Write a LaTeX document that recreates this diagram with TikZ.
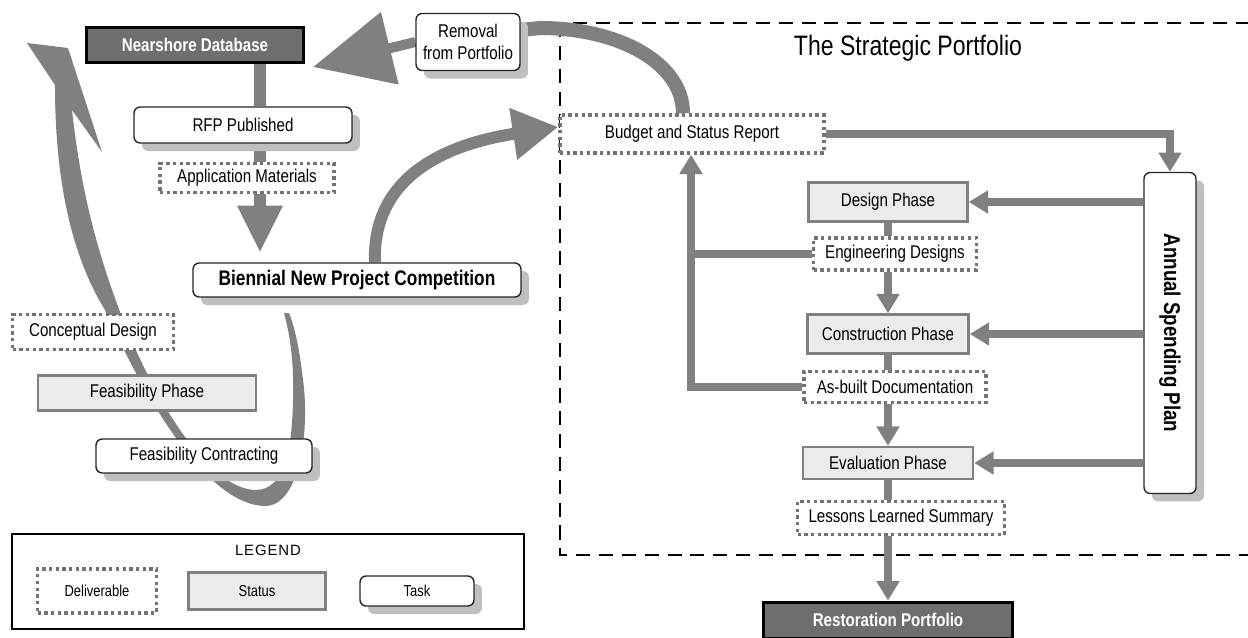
\documentclass[tikz,border=0pt]{standalone}
\usepackage{fontspec}
\setmainfont{Liberation Sans}[FakeStretch=0.82]
\newfontfamily\legendfont{Liberation Sans}[LetterSpace=6]
\usetikzlibrary{arrows.meta, shadows, backgrounds, positioning}
\definecolor{flowgray}{RGB}{128,128,128}
\definecolor{statusfill}{RGB}{235,235,235}
\definecolor{darkfill}{RGB}{110,110,110}
\tikzset{
    box/.style={
        rectangle,
        inner sep=0pt,
        align=center,
        font=\fontsize{10.5}{12.5}\selectfont,
    },
    task/.style={
        box,
        draw=black!85,
        fill=white,
        line width=0.8pt,
        rounded corners=3.5pt,
        drop shadow={shadow xshift=0.16cm, shadow yshift=-0.16cm, fill=black!25, opacity=1},
    },
    status/.style={box, draw=flowgray, fill=statusfill, line width=1.4pt},
    deliverable/.style={box, draw=black!55, fill=white, line width=1.9pt, dash pattern=on 1.9pt off 1.9pt},
    database/.style={box, draw=black, fill=darkfill, line width=1.7pt, text=white,
        font=\bfseries\fontsize{10.5}{12.5}\selectfont},
    flow/.style={draw=flowgray, line width=4pt},
    flowtip/.style={-{Triangle[length=11pt,width=12.5pt]}},
}

\begin{document}
\begin{tikzpicture}[x=0.02cm, y=-0.02cm]
    \useasboundingbox (0,0) rectangle (1248,637);
    % competition side
    \node[database, minimum width=4.36cm, minimum height=0.70cm] (near) at (195,45) {Nearshore Database};
    \node[task, minimum width=2.08cm, minimum height=1.14cm] (removal) at (468,42) {Removal\\from Portfolio};
    \node[task, minimum width=4.36cm, minimum height=0.72cm] (rfp) at (243,125) {RFP Published};
    \node[deliverable, minimum width=3.48cm, minimum height=0.58cm] (appmat) at (247,178) {Application Materials};
    \node[task, minimum width=6.56cm, minimum height=0.68cm, font=\bfseries\fontsize{12}{14}\selectfont] (biennial) at (357,280) {Biennial New Project Competition};
    \node[deliverable, minimum width=3.22cm, minimum height=0.70cm] (concept) at (93,332) {Conceptual Design};
    \node[status, minimum width=4.36cm, minimum height=0.70cm] (feasph) at (147,393) {Feasibility Phase};
    \node[task, minimum width=4.32cm, minimum height=0.68cm] (feascon) at (204,456) {Feasibility Contracting};
    % legend
    \draw[line width=0.9pt] (12,534) rectangle (524,629);
    \node[font=\legendfont\fontsize{8.5}{10}\selectfont] (legtitle) at (268,550) {LEGEND};
    \node[deliverable, minimum width=2.38cm, minimum height=0.88cm, font=\fontsize{9}{11}\selectfont] (legdel) at (97,591) {Deliverable};
    \node[status, minimum width=2.74cm, minimum height=0.74cm, font=\fontsize{9}{11}\selectfont] (legstat) at (257,591) {Status};
    \node[task, minimum width=2.28cm, minimum height=0.60cm, font=\fontsize{9}{11}\selectfont] (legtask) at (417,591) {Task};
    % strategic portfolio
    \node[font=\fontsize{16}{19}\selectfont] (title) at (908,48) {The Strategic Portfolio};
    \node[deliverable, minimum width=5.28cm, minimum height=0.76cm] (budget) at (692,134) {Budget and Status Report};
    \node[status, minimum width=3.18cm, minimum height=0.78cm] (design) at (888,202) {Design Phase};
    \node[deliverable, minimum width=3.26cm, minimum height=0.64cm] (engdes) at (895,254) {Engineering Designs};
    \node[status, minimum width=3.22cm, minimum height=0.78cm] (constr) at (888,334) {Construction Phase};
    \node[deliverable, minimum width=3.64cm, minimum height=0.62cm] (asbuilt) at (895,387) {As-built Documentation};
    \node[status, minimum width=3.40cm, minimum height=0.64cm] (evalph) at (888,463) {Evaluation Phase};
    \node[deliverable, minimum width=4.14cm, minimum height=0.66cm] (lessons) at (901,518) {Lessons Learned Summary};
    \node[database, minimum width=4.98cm, minimum height=0.72cm] (restor) at (888,620) {Restoration Portfolio};
    \node[task, minimum width=1.04cm, minimum height=6.42cm, font=\bfseries\fontsize{13}{15}\selectfont] (annual) at (1170,333) {\rotatebox{-90}{Annual Spending Plan}};

    \begin{scope}[on background layer]
        \draw[line width=1.6pt, dash pattern=on 8pt off 5pt] (560,23) rectangle (1275,555);
        % left lane
        \coordinate (lane) at (260,0);
        \coordinate (bntip) at (260,253);
        \draw[flow, line width=6.8pt] (near.south -| lane) to (rfp.north -| lane);
        \draw[flow, line width=6.8pt] (rfp.south -| lane) to (appmat.north -| lane);
        \draw[flow, line width=6.8pt, -{Triangle[length=27pt,width=24pt]}] (appmat.south -| lane) to (bntip);
        \draw[flow, line width=6.8pt, -{Triangle[length=26pt,width=28pt]}] ([xshift=0.36cm]biennial.north)
            .. controls (372,180) and (440,145) .. ([yshift=0.14cm]budget.west);
        \draw[flow, line width=8pt] ([xshift=-0.18cm]budget.north)
            .. controls (683,63) and (619,28) .. (540,28) -- ([yshift=0.24cm]removal.east);
        \coordinate (remtip) at (313,67);
        \draw[flow, line width=5.7pt, -{Triangle[length=45pt,width=41pt]}] (removal.west) to (remtip);
        % loop back through feasibility
        \fill[flowgray] (55,85) .. controls (55,170) and (68,250) .. (105,310)
            .. controls (150,410) and (210,505) .. (265,506)
            .. controls (300,506) and (310,430) .. (303,380)
            .. controls (299,345) and (294,325) .. (289,313)
            -- (284,313) .. controls (290,335) and (294,360) .. (293,400)
            .. controls (292,450) and (285,490) .. (255,490)
            .. controls (210,488) and (160,410) .. (125,325)
            .. controls (100,260) and (82,200) .. (72,110)
            -- (102,152) -- (68,48) -- (27,43) -- cycle;
        % right column
        \coordinate (rlane) at (691,0);
        \draw[flow, flowtip] (budget.east) -| (annual.north);
        \draw[flow, flowtip] (annual.west |- design.east) to (design.east);
        \draw[flow, flowtip] (annual.west |- constr.east) to (constr.east);
        \draw[flow, flowtip] (annual.west |- evalph.east) to (evalph.east);
        \draw[flow] (design.south) to (design.south |- engdes.north);
        \draw[flow, flowtip] (design.south |- engdes.south) to (constr.north);
        \draw[flow] (constr.south) to (constr.south |- asbuilt.north);
        \draw[flow, flowtip] (constr.south |- asbuilt.south) to (evalph.north);
        \draw[flow] (evalph.south) to (evalph.south |- lessons.north);
        \draw[flow, flowtip] (evalph.south |- lessons.south) to (restor.north);
        \draw[flow] (engdes.west) to (engdes.west -| rlane);
        \draw[flow, flowtip] (asbuilt.west) -| (rlane |- budget.south);
    \end{scope}
\end{tikzpicture}
\end{document}
